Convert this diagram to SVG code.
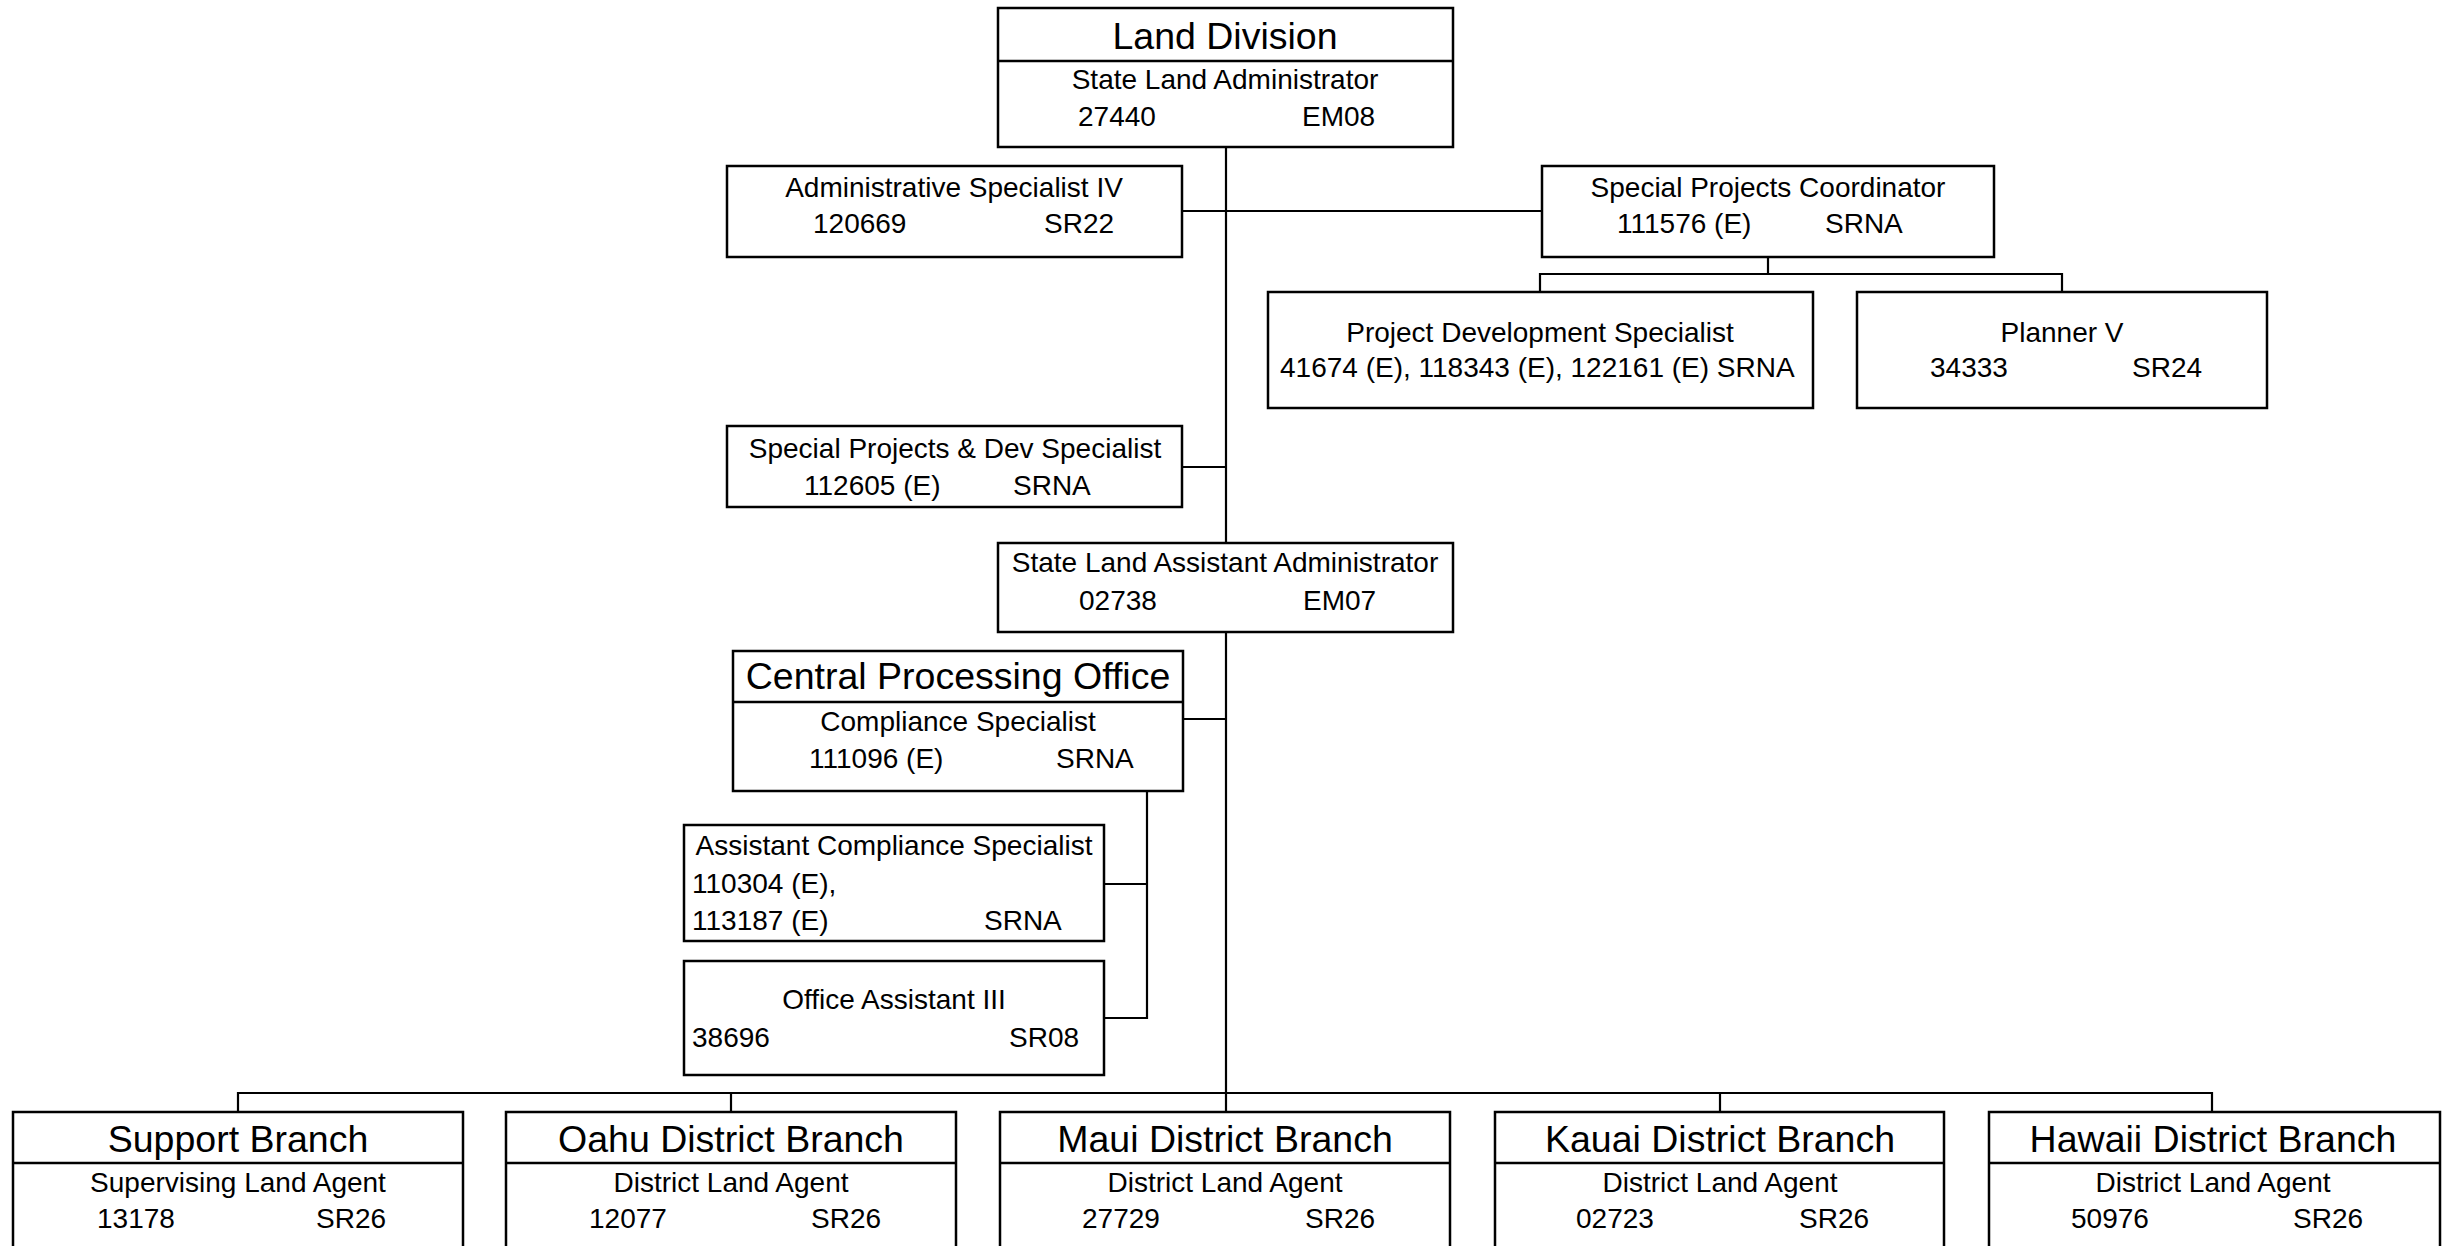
<svg xmlns="http://www.w3.org/2000/svg" width="2449" height="1246" viewBox="0 0 2449 1246">
<style>
rect.b{fill:#fff;stroke:#000;stroke-width:2.5}
line.d{stroke:#000;stroke-width:2.5}
.c path,.c line{stroke:#000;stroke-width:2.2;fill:none}
text{font-family:"Liberation Sans",Arial,sans-serif;font-size:28px;fill:#000}
text.h{font-size:37.5px}
text.m{text-anchor:middle}
</style>
<rect width="2449" height="1246" fill="#fff"/>
<g class="c" id="connectors">
<line x1="1226" y1="148" x2="1226" y2="1112"/>
<line x1="1182" y1="211" x2="1542" y2="211"/>
<line x1="1768" y1="257" x2="1768" y2="274"/>
<path d="M1540,292 V274 H2062 V292"/>
<line x1="1182" y1="467" x2="1226" y2="467"/>
<line x1="1183" y1="719" x2="1226" y2="719"/>
<path d="M1147,791 V1018 H1104"/>
<line x1="1104" y1="884" x2="1147" y2="884"/>
<path d="M238,1112 V1093 H2212 V1112"/>
<line x1="731" y1="1093" x2="731" y2="1112"/>
<line x1="1720" y1="1093" x2="1720" y2="1112"/>
</g>
<g id="land-division">
<rect class="b" x="998" y="8" width="455" height="139"/>
<line class="d" x1="998" y1="61" x2="1453" y2="61"/>
<text class="h m" x="1225" y="49">Land Division</text>
<text class="m" x="1225" y="89">State Land Administrator</text>
<text x="1078" y="126">27440</text>
<text x="1302" y="126">EM08</text>
</g>
<g id="admin-specialist">
<rect class="b" x="727" y="166" width="455" height="91"/>
<text class="m" x="954" y="197">Administrative Specialist IV</text>
<text x="813" y="233">120669</text>
<text x="1044" y="233">SR22</text>
</g>
<g id="special-projects-coordinator">
<rect class="b" x="1542" y="166" width="452" height="91"/>
<text class="m" x="1768" y="197">Special Projects Coordinator</text>
<text x="1617" y="233">111576 (E)</text>
<text x="1825" y="233">SRNA</text>
</g>
<g id="project-development-specialist">
<rect class="b" x="1268" y="292" width="545" height="116"/>
<text class="m" x="1540" y="342">Project Development Specialist</text>
<text x="1280" y="377">41674 (E), 118343 (E), 122161 (E) SRNA</text>
</g>
<g id="planner-v">
<rect class="b" x="1857" y="292" width="410" height="116"/>
<text class="m" x="2062" y="342">Planner V</text>
<text x="1930" y="377">34333</text>
<text x="2132" y="377">SR24</text>
</g>
<g id="special-projects-dev-specialist">
<rect class="b" x="727" y="426" width="455" height="81"/>
<text class="m" x="955" y="458">Special Projects &amp; Dev Specialist</text>
<text x="804" y="495">112605 (E)</text>
<text x="1013" y="495">SRNA</text>
</g>
<g id="state-land-assistant-administrator">
<rect class="b" x="998" y="543" width="455" height="89"/>
<text class="m" x="1225" y="572">State Land Assistant Administrator</text>
<text x="1079" y="610">02738</text>
<text x="1303" y="610">EM07</text>
</g>
<g id="central-processing-office">
<rect class="b" x="733" y="651" width="450" height="140"/>
<line class="d" x1="733" y1="702" x2="1183" y2="702"/>
<text class="h m" x="958" y="689">Central Processing Office</text>
<text class="m" x="958" y="731">Compliance Specialist</text>
<text x="809" y="768">111096 (E)</text>
<text x="1056" y="768">SRNA</text>
</g>
<g id="assistant-compliance-specialist">
<rect class="b" x="684" y="825" width="420" height="116"/>
<text class="m" x="894" y="855">Assistant Compliance Specialist</text>
<text x="692" y="893">110304 (E),</text>
<text x="692" y="930">113187 (E)</text>
<text x="984" y="930">SRNA</text>
</g>
<g id="office-assistant">
<rect class="b" x="684" y="961" width="420" height="114"/>
<text class="m" x="894" y="1009">Office Assistant III</text>
<text x="692" y="1047">38696</text>
<text x="1009" y="1047">SR08</text>
</g>
<g id="support-branch">
<rect class="b" x="13" y="1112" width="450" height="160"/>
<line class="d" x1="13" y1="1163" x2="463" y2="1163"/>
<text class="h m" x="238" y="1152">Support Branch</text>
<text class="m" x="238" y="1192">Supervising Land Agent</text>
<text x="97" y="1228">13178</text>
<text x="316" y="1228">SR26</text>
</g>
<g id="oahu-branch">
<rect class="b" x="506" y="1112" width="450" height="160"/>
<line class="d" x1="506" y1="1163" x2="956" y2="1163"/>
<text class="h m" x="731" y="1152">Oahu District Branch</text>
<text class="m" x="731" y="1192">District Land Agent</text>
<text x="589" y="1228">12077</text>
<text x="811" y="1228">SR26</text>
</g>
<g id="maui-branch">
<rect class="b" x="1000" y="1112" width="450" height="160"/>
<line class="d" x1="1000" y1="1163" x2="1450" y2="1163"/>
<text class="h m" x="1225" y="1152">Maui District Branch</text>
<text class="m" x="1225" y="1192">District Land Agent</text>
<text x="1082" y="1228">27729</text>
<text x="1305" y="1228">SR26</text>
</g>
<g id="kauai-branch">
<rect class="b" x="1495" y="1112" width="449" height="160"/>
<line class="d" x1="1495" y1="1163" x2="1944" y2="1163"/>
<text class="h m" x="1720" y="1152">Kauai District Branch</text>
<text class="m" x="1720" y="1192">District Land Agent</text>
<text x="1576" y="1228">02723</text>
<text x="1799" y="1228">SR26</text>
</g>
<g id="hawaii-branch">
<rect class="b" x="1989" y="1112" width="451" height="160"/>
<line class="d" x1="1989" y1="1163" x2="2440" y2="1163"/>
<text class="h m" x="2213" y="1152">Hawaii District Branch</text>
<text class="m" x="2213" y="1192">District Land Agent</text>
<text x="2071" y="1228">50976</text>
<text x="2293" y="1228">SR26</text>
</g>
</svg>
